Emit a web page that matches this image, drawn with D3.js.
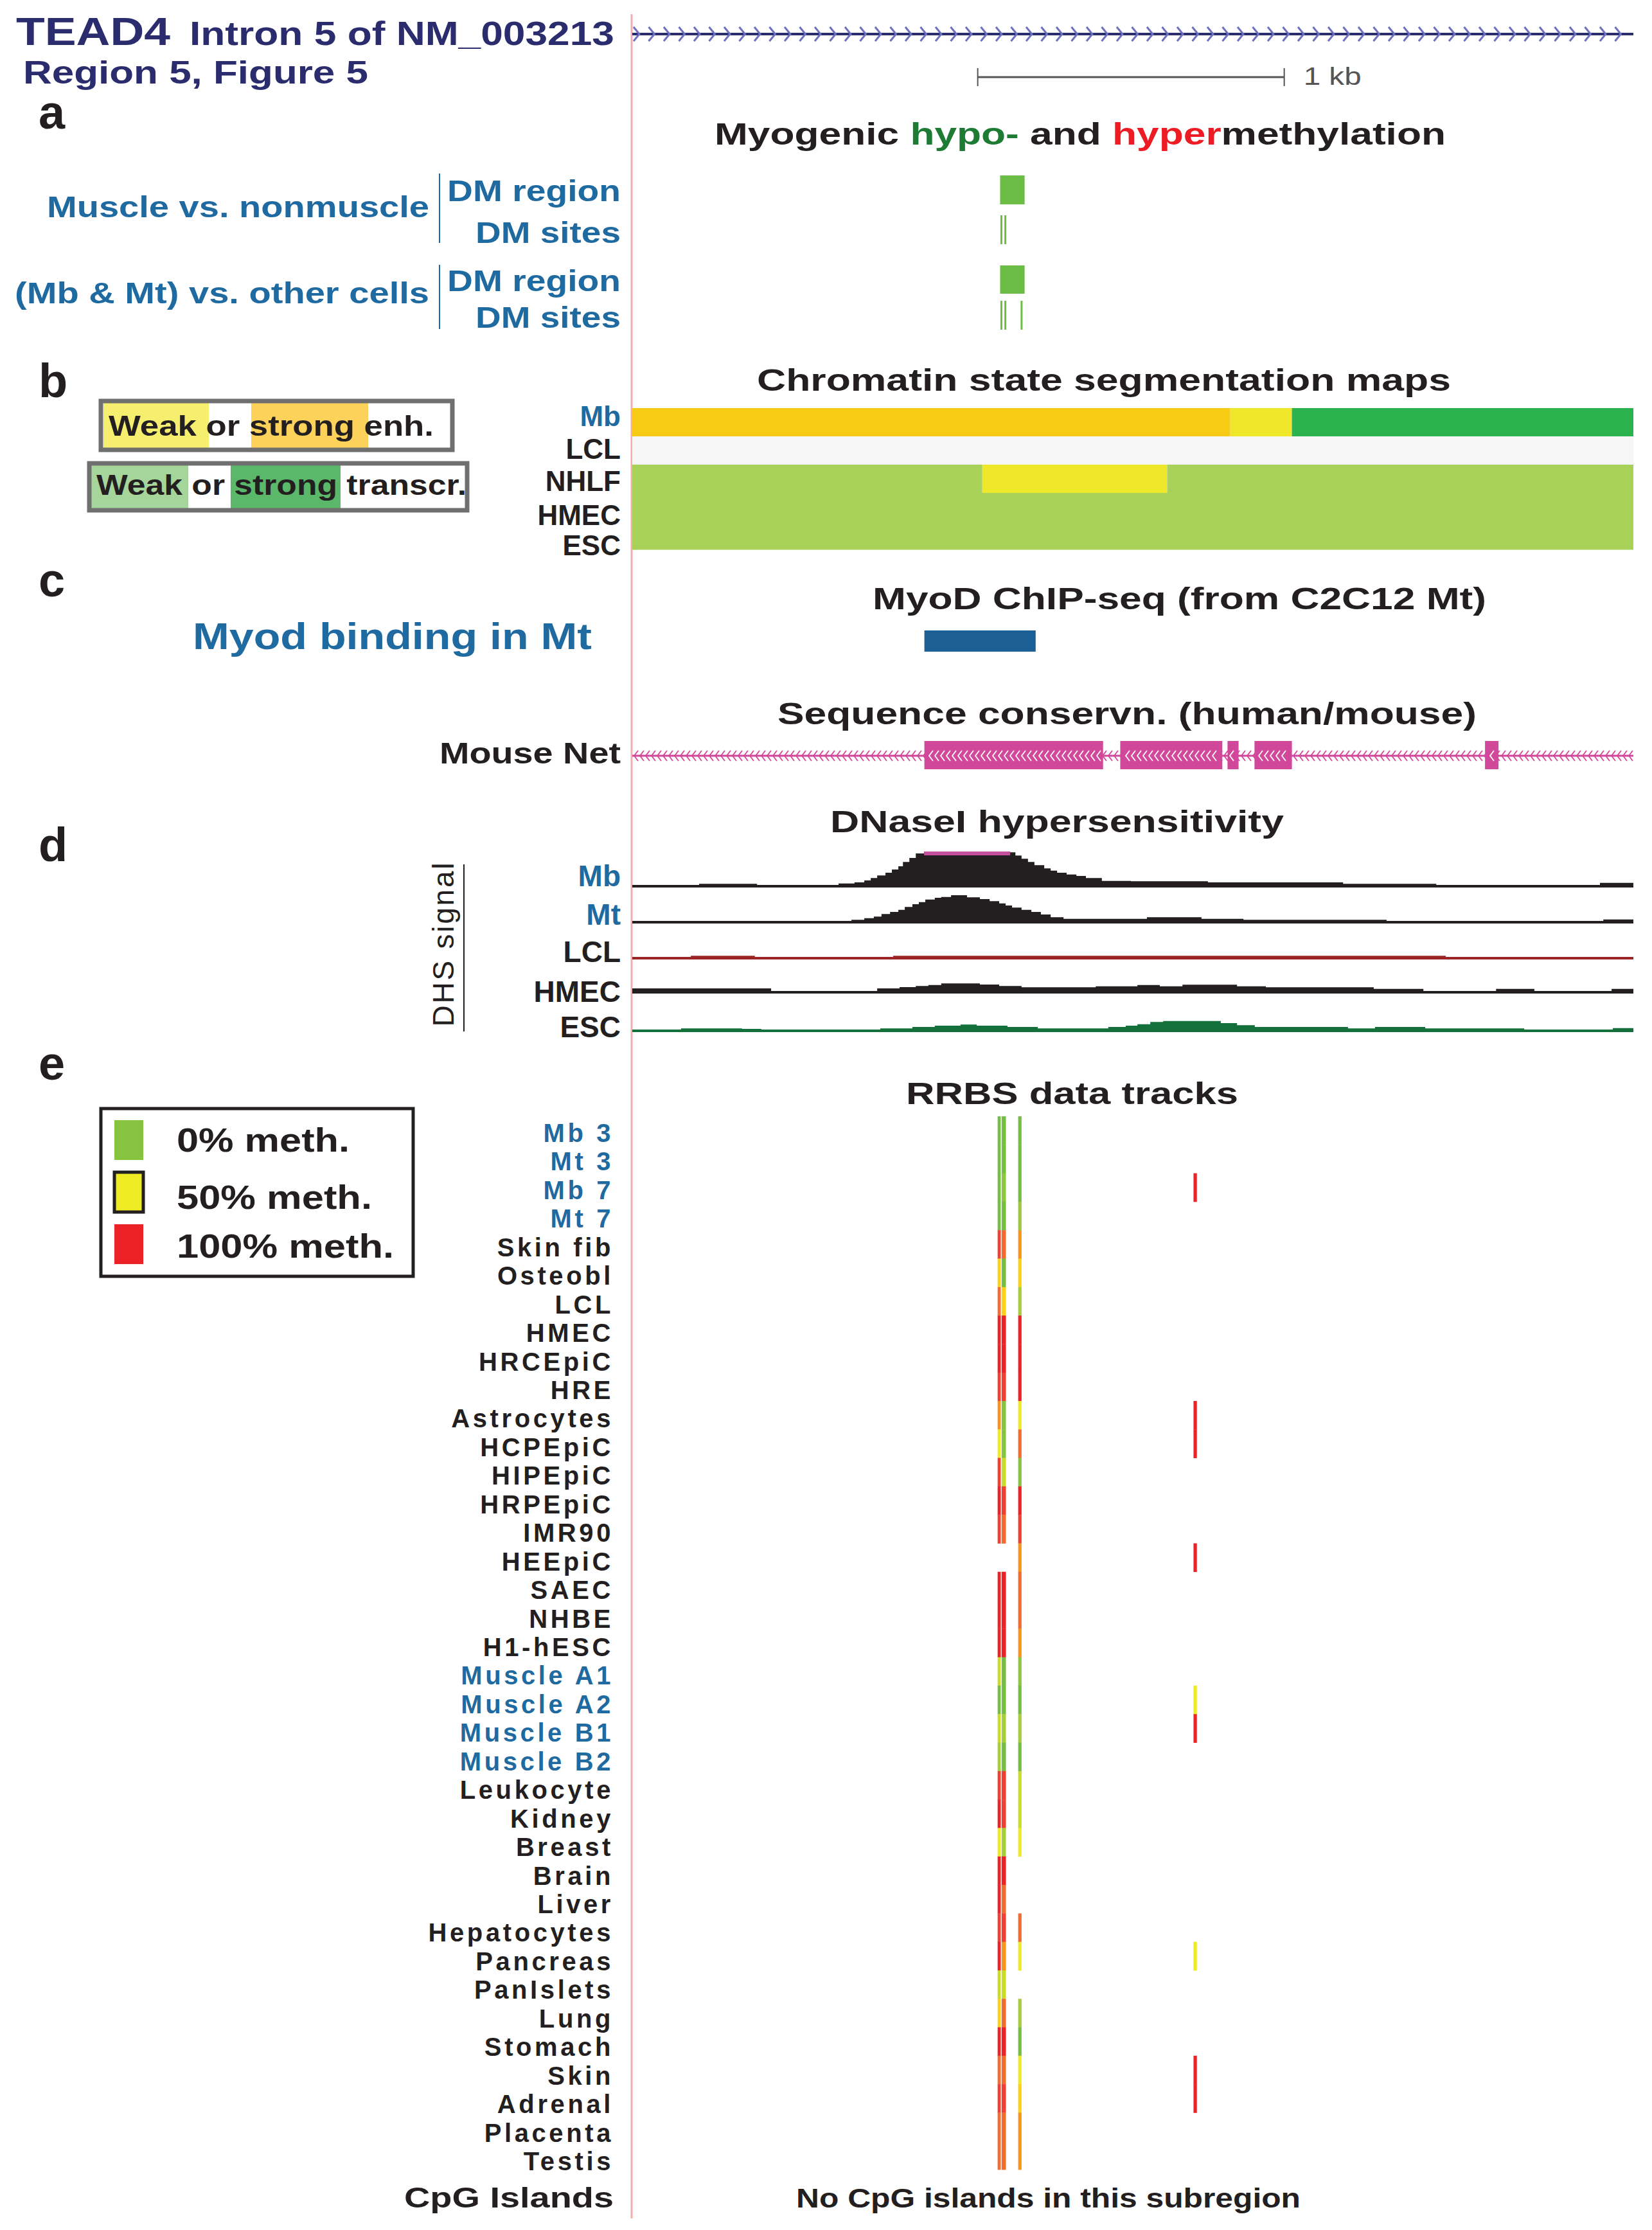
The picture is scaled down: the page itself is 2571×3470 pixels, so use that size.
<!DOCTYPE html>
<html><head><meta charset="utf-8">
<script src="https://cdn.jsdelivr.net/npm/d3@7"></script>
<style>
body{margin:0;background:#fff}
svg text{font-family:"Liberation Sans",Arial,Helvetica,sans-serif}
</style></head>
<body><svg id="chart" width="2571" height="3470"></svg>
<script>
// ---------------- DATA ----------------
const windowBp = [0, 3266];              // genomic window (bp from window start)
const scaleBarBp = [1127, 2127];         // 1 kb scale bar
const dmRegionMuscle = [[1200, 1280]];
const dmSitesMuscle = [1201, 1214];
const dmRegionMbMt = [[1200, 1280]];
const dmSitesMbMt = [1201, 1214, 1267];

const chromatinCells = ["Mb", "LCL", "NHLF", "HMEC", "ESC"];
const chromatinSegments = [
  {cell: "Mb", start: 0, end: 1951, state: "strongEnh"},
  {cell: "Mb", start: 1951, end: 2152, state: "weakEnh"},
  {cell: "Mb", start: 2152, end: 3266, state: "strongTx"},
  {cell: "LCL", start: 0, end: 3266, state: "none"},
  {cell: "NHLF", start: 0, end: 1142, state: "weakTx"},
  {cell: "NHLF", start: 1142, end: 1745, state: "weakEnh"},
  {cell: "NHLF", start: 1745, end: 3266, state: "weakTx"},
  {cell: "HMEC", start: 0, end: 3266, state: "weakTx"},
  {cell: "ESC", start: 0, end: 3266, state: "weakTx"}
];

const myodPeaks = [[953, 1316]];
const mouseNetBlocks = [[953, 1536], [1592, 1925], [1942, 1978], [2030, 2152], [2782, 2826]];

const dhsCells = ["Mb", "Mt", "LCL", "HMEC", "ESC"];
const dhsMb = [[0,0],[218,1.7],[407,0],[673,2.3],[725,4],[757,7],[778,10.7],[799,14.7],[826,19],[847,24],[868,29],[883,35.7],[904,42],[925,49],[952,68],[1233,50.7],[1250,45.7],[1270,40.7],[1291,35.7],[1312,30.7],[1344,25.7],[1365,22.3],[1386,19],[1417,16.3],[1449,14],[1480,10.7],[1532,6.3],[1627,5.7],[1878,4],[2319,1.7],[2623,0],[3157,3.3]];
const dhsMt = [[0,0],[715,1.7],[757,4.3],[788,6.7],[813,10.7],[841,14],[868,17.3],[889,21.7],[914,26],[935,29.3],[956,33.3],[987,36],[1008,37.3],[1040,40],[1092,36.7],[1134,34],[1166,30.7],[1197,27.3],[1218,24],[1239,20.7],[1270,17.3],[1302,14],[1333,10],[1365,5.7],[1407,3.3],[1679,5.7],[1857,3.3],[1994,1.7],[2461,0],[3168,2.3]];
const dhsLCL = [[0,0],[191,1.7],[400,0],[851,1.7],[2654,0]];
const dhsHMEC = [[0,4],[453,0],[799,4],[872,6],[925,7.7],[966,9.3],[1008,11.7],[1134,10],[1197,7.7],[1270,5.7],[1512,7.3],[1648,9.3],[1721,7.3],[1795,9.7],[1973,7.3],[2067,5.7],[2419,3.3],[2581,0],[2818,3.3],[2943,0],[3195,3.3]];
const dhsESC = [[0,0],[159,1.7],[358,1],[421,0],[809,1.7],[914,4],[987,6],[1071,7.7],[1124,6],[1224,4],[1323,1.7],[1553,4],[1610,6],[1648,8.3],[1690,11.7],[1732,13.3],[1920,10],[1973,6.7],[2031,4],[2335,1.7],[2423,4],[2587,1.7],[2910,0],[3199,2.3]];

const rrbsSites = [[1192, 1202], [1205, 1219], [1259, 1270], [1831, 1842]];
const rrbsSamples = ["Mb 3","Mt 3","Mb 7","Mt 7","Skin fib","Osteobl","LCL","HMEC","HRCEpiC","HRE","Astrocytes","HCPEpiC","HIPEpiC","HRPEpiC","IMR90","HEEpiC","SAEC","NHBE","H1-hESC","Muscle A1","Muscle A2","Muscle B1","Muscle B2","Leukocyte","Kidney","Breast","Brain","Liver","Hepatocytes","Pancreas","PanIslets","Lung","Stomach","Skin","Adrenal","Placenta","Testis"];
const rrbsMuscleSamples = ["Mb 3","Mt 3","Mb 7","Mt 7","Muscle A1","Muscle A2","Muscle B1","Muscle B2"];
// fraction methylated at each of the four sites (null = no data)
const rrbsMeth = [
  [0, 0, 0, null],[0, 0, 0, null],[0, 0.15, 0, 1],[0, 0, 0.2, null],
  [0.9, 0.8, 0.7, null],[0.6, 0, 0.6, null],[0.8, 0.6, 0.25, null],[1, 1, 1, null],
  [1, 1, 1, null],[0.9, 0.9, 1, null],[0.7, 0.1, 0.5, 1],[0.5, 0.1, 0.8, 1],
  [0.9, 0.35, 0.1, null],[1, 0.9, 1, null],[0.9, 0.8, 0.9, null],[null, null, 0.7, 1],
  [1, 1, 0.8, null],[1, 1, 0.8, null],[1, 1, 0.7, null],
  [0.35, 0, 0.15, null],[0, 0, 0, 0.5],[0.35, 0.25, 0.25, 1],[0.25, 0, 0, null],
  [0.9, 0.9, 0.35, null],[1, 0.9, 0.35, null],[0.5, 0.25, 0.5, null],[1, 1, null, null],
  [1, 0.8, null, null],[0.9, 0.9, 0.8, null],[1, 0.7, 0.5, 0.5],[0.35, 0.35, null, null],
  [0.6, 0.8, 0.25, null],[1, 1, 0, null],[0.8, 0.8, 0.5, 1],[0.9, 0.9, 0.6, 1],
  [0.8, 0.8, 0.7, null],[0.8, 0.8, 0.7, null]
];
const methLegend = [{label: "0% meth.", v: 0.1}, {label: "50% meth.", v: 0.5}, {label: "100% meth.", v: 1}];

// ---------------- DRAWING ----------------
const svg = d3.select("#chart");
const BLUE = "#1f6aa0", NAVY = "#2b2c6e", INK = "#231f20";
const x = d3.scaleLinear().domain(windowBp).range([984, 2542]);

function txt(s, xx, yy, o = {}) {
  const t = svg.append("text").attr("x", xx).attr("y", yy)
    .attr("font-size", o.size || 46).attr("fill", o.fill || INK)
    .attr("text-anchor", o.anchor || "start")
    .style("font-weight", o.weight || "bold");
  if (o.len) t.attr("textLength", o.len).attr("lengthAdjust", "spacingAndGlyphs");
  if (o.ls) t.attr("letter-spacing", o.ls);
  if (Array.isArray(s)) s.forEach(p => t.append("tspan").attr("fill", p[1] || null).text(p[0]));
  else t.text(s);
  return t;
}

// pink divider
svg.append("line").attr("x1", 983).attr("x2", 983).attr("y1", 22).attr("y2", 3452)
  .attr("stroke", "#f4aeb0").attr("stroke-width", 3);

// header
txt("TEAD4", 25, 70, {size: 62, fill: NAVY, len: 240});
txt("Intron 5 of NM_003213", 295, 70, {size: 52, fill: NAVY, len: 661});
txt("Region 5, Figure 5", 36, 130, {size: 50, fill: NAVY, len: 537});

// gene model
const gy = 53;
svg.append("line").attr("x1", x(windowBp[0])).attr("x2", x(windowBp[1])).attr("y1", gy).attr("y2", gy)
  .attr("stroke", NAVY).attr("stroke-width", 4);
svg.append("g").selectAll("path").data(d3.range(x(windowBp[0]) + 8, x(windowBp[1]) - 4, 23.5)).join("path")
  .attr("d", d => `M${d - 6},${gy - 11} L${d + 3},${gy} L${d - 6},${gy + 11}`)
  .attr("fill", "none").attr("stroke", "#6d71c0").attr("stroke-width", 3);

// scale bar
const sb = scaleBarBp.map(x);
svg.append("line").attr("x1", sb[0]).attr("x2", sb[1]).attr("y1", 120).attr("y2", 120).attr("stroke", "#555").attr("stroke-width", 3);
sb.forEach(v => svg.append("line").attr("x1", v).attr("x2", v).attr("y1", 106).attr("y2", 134).attr("stroke", "#555").attr("stroke-width", 2));
txt("1 kb", sb[1] + 30, 132, {size: 38, fill: "#555", weight: "normal", len: 90});

// section letters
[["a", 200], ["b", 618], ["c", 928], ["d", 1340], ["e", 1680]].forEach(([l, yy]) => txt(l, 60, yy, {size: 74}));

// ---- a ----
txt([["Myogenic "], ["hypo-", "#1d7b34"], [" and "], ["hyper", "#ed1c24"], ["methylation"]], 1112, 225, {size: 48, len: 1138});
txt("Muscle vs. nonmuscle", 668, 338, {anchor: "end", fill: BLUE, len: 595});
txt("(Mb & Mt) vs. other cells", 668, 472, {anchor: "end", fill: BLUE, len: 645});
[[313, "DM region", 270], [378, "DM sites", 226], [453, "DM region", 270], [510, "DM sites", 226]]
  .forEach(([yy, s, l]) => txt(s, 966, yy, {anchor: "end", fill: BLUE, len: l}));
[[270, 378], [412, 512]].forEach(([a, b]) => svg.append("line").attr("x1", 684).attr("x2", 684).attr("y1", a).attr("y2", b)
  .attr("stroke", BLUE).attr("stroke-width", 2));
const DMG = "#6cbd45";
function regions(data, y0, y1) {
  svg.append("g").selectAll("rect").data(data).join("rect")
    .attr("x", d => x(d[0])).attr("width", d => x(d[1]) - x(d[0])).attr("y", y0).attr("height", y1 - y0).attr("fill", DMG);
}
function sites(data, y0, y1) {
  svg.append("g").selectAll("rect").data(data).join("rect")
    .attr("x", d => x(d)).attr("width", 3).attr("y", y0).attr("height", y1 - y0).attr("fill", DMG);
}
regions(dmRegionMuscle, 273, 318);
sites(dmSitesMuscle, 335, 380);
regions(dmRegionMbMt, 413, 457);
sites(dmSitesMbMt, 468, 513);

// ---- b ----
txt("Chromatin state segmentation maps", 1178, 608, {size: 48, len: 1080});
const stateColor = {strongEnh: "#f8cb15", weakEnh: "#efe82a", strongTx: "#2ab24f", weakTx: "#a8d15a", none: "#f6f6f6"};
const cy = d3.scaleBand().domain(chromatinCells).range([635, 855]);
svg.append("g").selectAll("rect").data(chromatinSegments).join("rect")
  .attr("x", d => x(d.start)).attr("width", d => x(d.end) - x(d.start))
  .attr("y", d => cy(d.cell)).attr("height", cy.bandwidth() + 0.5).attr("fill", d => stateColor[d.state]);
const chromLabelY = {Mb: 663, LCL: 714, NHLF: 764, HMEC: 817, ESC: 864};
chromatinCells.forEach(c => txt(c, 966, chromLabelY[c], {anchor: "end", size: 44, fill: c === "Mb" ? BLUE : INK}));

// chromatin legend boxes
function legendBox(bx, by, bw, bh, fills, parts, len, ty) {
  fills.forEach(f => svg.append("rect").attr("x", f[0]).attr("y", by).attr("width", f[1] - f[0]).attr("height", bh).attr("fill", f[2]));
  svg.append("rect").attr("x", bx).attr("y", by).attr("width", bw).attr("height", bh)
    .attr("fill", "none").attr("stroke", "#6f6f6f").attr("stroke-width", 7);
  txt(parts, fills[0][0] + 8, ty, {size: 44, len: len});
}
legendBox(157, 624, 547, 76, [[161, 325, "#f5ee6e"], [391, 573, "#fdd25a"]], [["Weak or strong enh."]], 506, 678);
legendBox(139, 721, 588, 73, [[142, 293, "#a5d59b"], [359, 530, "#5bb86a"]], [["Weak or strong transcr."]], 576, 770);

// ---- c ----
txt("MyoD ChIP-seq (from C2C12 Mt)", 1358, 948, {size: 48, len: 955});
txt("Myod binding in Mt", 300, 1010, {size: 58, fill: BLUE, len: 621});
svg.append("g").selectAll("rect").data(myodPeaks).join("rect")
  .attr("x", d => x(d[0])).attr("width", d => x(d[1]) - x(d[0])).attr("y", 981).attr("height", 33).attr("fill", "#1b5f94");

txt("Sequence conservn. (human/mouse)", 1210, 1127, {size: 48, len: 1088});
txt("Mouse Net", 966, 1188, {anchor: "end", len: 282});
const NETC = "#d1479a", ny = 1176;
svg.append("line").attr("x1", x(windowBp[0])).attr("x2", x(windowBp[1])).attr("y1", ny).attr("y2", ny).attr("stroke", NETC).attr("stroke-width", 3);
svg.append("g").selectAll("rect").data(mouseNetBlocks).join("rect")
  .attr("x", d => x(d[0])).attr("width", d => x(d[1]) - x(d[0])).attr("y", 1153).attr("height", 44).attr("fill", NETC);
const inBlock = px => mouseNetBlocks.some(b => px > x(b[0]) + 4 && px < x(b[1]) - 4);
svg.append("g").selectAll("path").data(d3.range(x(windowBp[0]) + 6, x(windowBp[1]) - 2, 9)).join("path")
  .attr("d", d => `M${d + 3},${ny - 8} L${d - 3},${ny} L${d + 3},${ny + 8}`)
  .attr("fill", "none").attr("stroke", d => inBlock(d) ? "#fff" : NETC).attr("stroke-width", 1.8);

// ---- d ----
txt("DNaseI hypersensitivity", 1292, 1295, {size: 48, len: 706});
svg.append("text").attr("transform", "translate(706,1470) rotate(-90)").attr("text-anchor", "middle")
  .attr("font-size", 46).style("font-weight", "normal").attr("fill", INK)
  .attr("textLength", 255).attr("lengthAdjust", "spacing").text("DHS signal");
svg.append("line").attr("x1", 722).attr("x2", 722).attr("y1", 1345).attr("y2", 1605).attr("stroke", INK).attr("stroke-width", 2);

const dhsTracks = [
  {cell: "Mb", data: dhsMb, base: 1377, color: INK, label: 1379},
  {cell: "Mt", data: dhsMt, base: 1433, color: INK, label: 1439},
  {cell: "LCL", data: dhsLCL, base: 1489, color: "#9b2424", label: 1497},
  {cell: "HMEC", data: dhsHMEC, base: 1542, color: INK, label: 1559},
  {cell: "ESC", data: dhsESC, base: 1602, color: "#13703a", label: 1614}
];
const vmax = 52;
const hy = d3.scaleLinear().domain([0, vmax]).range([0, vmax]).clamp(true);
dhsTracks.forEach(t => {
  const pts = t.data.concat([[windowBp[1], t.data[t.data.length - 1][1]]]);
  const area = d3.area().curve(d3.curveStepAfter)
    .x(d => x(d[0])).y0(t.base + 4).y1(d => t.base - hy(d[1]));
  svg.append("path").datum(pts).attr("d", area).attr("fill", t.color);
  // clipped (over-range) segments
  t.data.forEach((d, i) => {
    if (d[1] > vmax) {
      const e = i + 1 < t.data.length ? t.data[i + 1][0] : windowBp[1];
      svg.append("rect").attr("x", x(d[0])).attr("width", x(e) - x(d[0]))
        .attr("y", t.base - vmax).attr("height", 6).attr("fill", "#c3509f");
    }
  });
  txt(t.cell, 966, t.label, {anchor: "end", fill: (t.cell === "Mb" || t.cell === "Mt") ? BLUE : INK});
});

// ---- e ----
txt("RRBS data tracks", 1410, 1718, {size: 48, len: 517});
const methColor = d3.scaleLinear()
  .domain([0, 0.1, 0.15, 0.25, 0.35, 0.5, 0.6, 0.7, 0.8, 0.9, 1])
  .range(["#76be43", "#86c440", "#8dc63f", "#a6ce39", "#cadb2a", "#eeea23", "#fdd116", "#f7941d", "#f26b2f", "#ee4131", "#ec2227"]);

// legend
svg.append("rect").attr("x", 157).attr("y", 1725).attr("width", 486).attr("height", 261)
  .attr("fill", "none").attr("stroke", INK).attr("stroke-width", 5);
const legY = d3.scalePoint().domain(methLegend.map(d => d.label)).range([1774, 1936]);
const legTextY = [1792, 1881, 1957];
methLegend.forEach((d, i) => {
  const r = svg.append("rect").attr("x", 178).attr("y", legY(d.label) - 31).attr("width", 45).attr("height", 62)
    .attr("fill", methColor(d.v));
  if (i === 1) r.attr("stroke", INK).attr("stroke-width", 5);
  txt(d.label, 275, legTextY[i], {size: 52, len: [269, 304, 338][i]});
});

const ry = d3.scaleBand().domain(d3.range(rrbsSamples.length)).range([1737, 3376]);
const ly = d3.scalePoint().domain(d3.range(rrbsSamples.length)).range([1777, 3377]);
const cells = [];
rrbsMeth.forEach((row, i) => row.forEach((v, j) => { if (v !== null) cells.push({i, j, v}); }));
svg.append("g").selectAll("rect").data(cells).join("rect")
  .attr("x", d => x(rrbsSites[d.j][0])).attr("width", d => x(rrbsSites[d.j][1]) - x(rrbsSites[d.j][0]))
  .attr("y", d => ry(d.i)).attr("height", ry.bandwidth() + 0.4).attr("fill", d => methColor(d.v));
rrbsSamples.forEach((s, i) => txt(s, 955, ly(i), {anchor: "end", size: 40, ls: 4.6,
  fill: rrbsMuscleSamples.includes(s) ? BLUE : INK}));

txt("CpG Islands", 955, 3435, {anchor: "end", size: 44, len: 326});
txt("No CpG islands in this subregion", 1239, 3435, {size: 42, len: 785});
</script></body></html>
